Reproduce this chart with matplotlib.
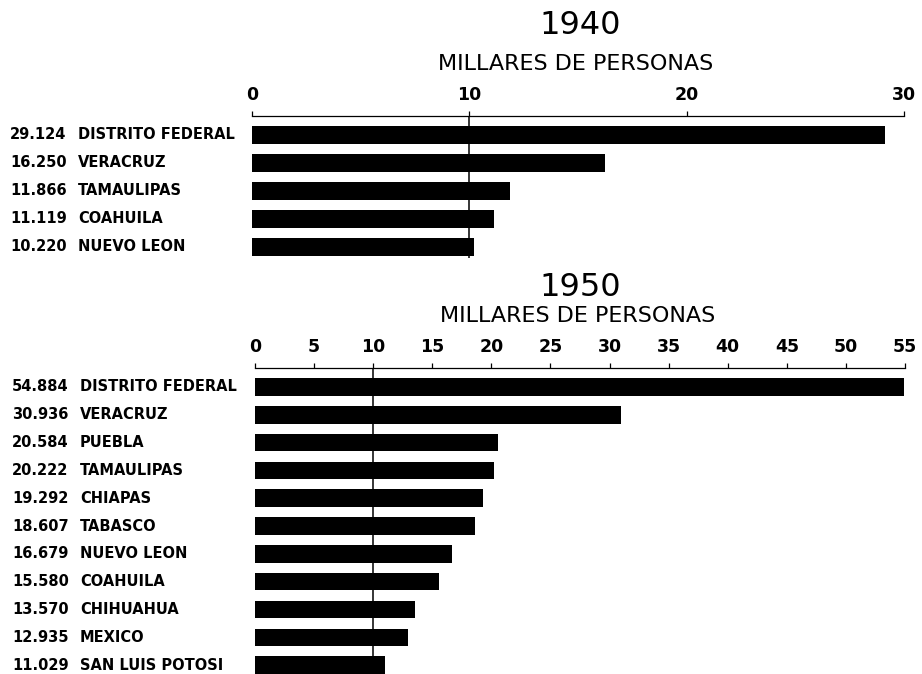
import matplotlib
matplotlib.use("Agg")
import matplotlib.pyplot as plt
from matplotlib.transforms import blended_transform_factory

# ---- data ----
states_1940 = ["DISTRITO FEDERAL", "VERACRUZ", "TAMAULIPAS", "COAHUILA", "NUEVO LEON"]
values_1940 = [29.124, 16.250, 11.866, 11.119, 10.220]
ticks_1940 = [0, 10, 20, 30]

states_1950 = ["DISTRITO FEDERAL", "VERACRUZ", "PUEBLA", "TAMAULIPAS", "CHIAPAS",
               "TABASCO", "NUEVO LEON", "COAHUILA", "CHIHUAHUA", "MEXICO",
               "SAN LUIS POTOSI"]
values_1950 = [54.884, 30.936, 20.584, 20.222, 19.292, 18.607, 16.679, 15.580,
               13.570, 12.935, 11.029]
ticks_1950 = [0, 5, 10, 15, 20, 25, 30, 35, 40, 45, 50, 55]

title_1940 = "1940"
title_1950 = "1950"
axis_title = "MILLARES DE PERSONAS"

W, H = 922, 674
fig = plt.figure(figsize=(W / 100, H / 100), dpi=100)
fig.patch.set_facecolor("white")


def px_rect(left, right, top, bottom):
    return [left / W, 1 - bottom / H, (right - left) / W, (bottom - top) / H]


def panel(rect, states, values, ticks, ylim, num_x, name_x):
    ax = fig.add_axes(rect)
    y = list(range(len(states)))
    ax.barh(y, values, height=0.63, color="black", zorder=2)
    ax.axvline(10, color="black", lw=1.1, zorder=1)
    ax.set_xlim(ticks[0], ticks[-1])
    ax.set_ylim(*ylim)
    for s in ["left", "right", "bottom"]:
        ax.spines[s].set_visible(False)
    ax.spines["top"].set_linewidth(0.9)
    ax.xaxis.tick_top()
    ax.set_xticks(ticks)
    ax.set_xticklabels([str(t) for t in ticks], fontweight="bold")
    ax.tick_params(axis="x", direction="out", length=3.5, width=0.9, pad=5,
                   labelsize=12.5)
    ax.set_yticks([])
    tr = blended_transform_factory(fig.transFigure, ax.transData)
    for yi, st, v in zip(y, states, values):
        ax.text(num_x / W, yi, f"{v:.3f}", transform=tr, ha="left", va="center",
                fontsize=10.5, fontweight="bold")
        ax.text(name_x / W, yi, st, transform=tr, ha="left", va="center",
                fontsize=10.5, fontweight="bold")
    return ax


ax1 = panel(px_rect(252, 904, 116, 258), states_1940, values_1940, ticks_1940,
            (4.4, -0.679), 10, 78)
ax2 = panel(px_rect(255, 905, 368, 674), states_1950, values_1950, ticks_1950,
            (10.32, -0.683), 12, 80)

fig.text(580 / W, 1 - 25 / H, title_1940, ha="center", va="center", fontsize=23)
fig.text(576 / W, 1 - 64 / H, axis_title, ha="center", va="center", fontsize=16)
fig.text(580 / W, 1 - 287 / H, title_1950, ha="center", va="center", fontsize=23)
fig.text(578 / W, 1 - 316 / H, axis_title, ha="center", va="center", fontsize=16)

fig.savefig("out.png", dpi=100, facecolor="white")
